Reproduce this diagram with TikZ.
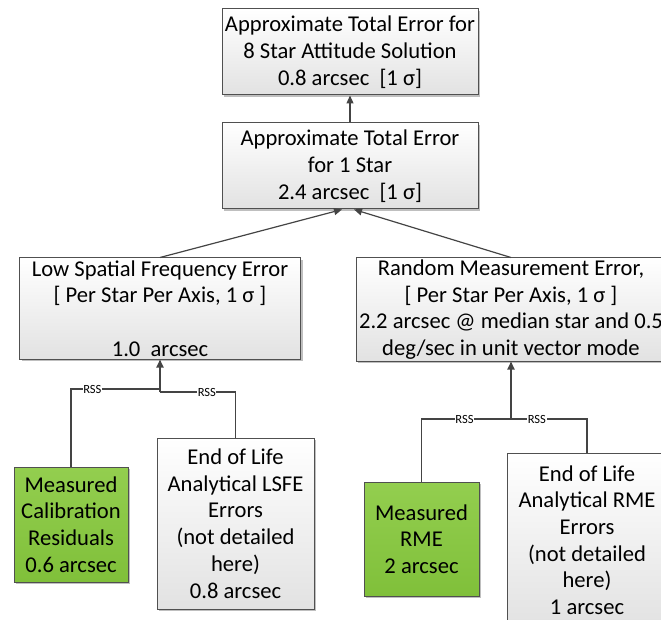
\documentclass[tikz,border=0pt]{standalone}
\usepackage{fontspec}
\setmainfont{Carlito}
\usetikzlibrary{arrows.meta,shadows}
\definecolor{edge}{HTML}{505050}
\definecolor{lgray}{HTML}{E2E2E2}
\definecolor{gtop}{HTML}{93CE4F}
\definecolor{gbot}{HTML}{80C03A}
\definecolor{lnk}{HTML}{444444}
\tikzset{
  box/.style={draw=edge, line width=1pt, top color=white, bottom color=lgray,
    align=center, inner sep=0pt, font=\fontsize{22.6}{26.7}\selectfont,
    drop shadow={shadow xshift=2pt, shadow yshift=-2pt, opacity=0.25, fill=black}},
  gbox/.style={box, top color=gtop, bottom color=gbot},
  trunk/.style={draw=lnk, line width=1.8pt, -{Triangle[length=8pt,width=7pt]}},
  thin/.style={draw=lnk, line width=1.2pt, -{Triangle[length=8pt,width=7pt]}},
  branch/.style={draw=lnk, line width=1.1pt},
  rss/.style={font=\fontsize{12.5}{13}\selectfont, fill=white, inner sep=0.6pt}
}
\begin{document}
\begin{tikzpicture}[x=1pt,y=-1pt]
\useasboundingbox (0,0) rectangle (661,620);
\clip (0,0) rectangle (661,620);
\node[box, minimum width=256pt, minimum height=86pt] (top) at (350,52)
  {Approximate Total Error for\\ 8 Star Attitude Solution\\ 0.8 arcsec\ \ [1 σ]};
\node[box, minimum width=256pt, minimum height=86pt] (mid) at (350,166)
  {Approximate Total Error\\ for 1 Star\\ 2.4 arcsec\ \ [1 σ]};
\node[box, minimum width=281pt, minimum height=101pt] (lsfe) at (160,308.5)
  {Low Spatial Frequency Error\\{}[ Per Star Per Axis, 1 σ ]\\ \mbox{}\\ 1.0\ \ arcsec};
\node[box, minimum width=310pt, minimum height=103pt] (rme) at (511,309.5)
  {Random Measurement Error,\\{}[ Per Star Per Axis, 1 σ ]\\ 2.2 arcsec @ median star and 0.5\\ deg/sec in unit vector mode};
\node[gbox, minimum width=114pt, minimum height=115pt] (g1) at (71,524.5)
  {Measured\\ Calibration\\ Residuals\\ 0.6 arcsec};
\node[box, minimum width=157pt, minimum height=171pt] (e1) at (235.5,523.5)
  {End of Life\\ Analytical LSFE\\ Errors\\ (not detailed\\ here)\\ 0.8 arcsec};
\node[gbox, minimum width=115pt, minimum height=114pt] (g2) at (421.5,539)
  {Measured\\ RME\\ 2 arcsec};
\node[box, minimum width=160pt, minimum height=174pt] (e2) at (587,540)
  {End of Life\\ Analytical RME\\ Errors\\ (not detailed\\ here)\\ 1 arcsec};

\draw[thin] (mid.north) -- (top.south);
\draw[thin] (lsfe.north) -- ([xshift=-8pt]mid.south);
\draw[thin] (rme.north) -- ([xshift=4pt]mid.south);

\coordinate (jl1) at (160,389);
\coordinate (jr1) at (160,392);
\coordinate (j2) at (511,419);
\draw[branch] (g1.north) |- node[rss, pos=0.62] {RSS} (jl1);
\draw[branch] (e1.north) |- node[rss, pos=0.69] {RSS} (jr1);
\draw[trunk] (jr1) -- (lsfe.south);
\draw[branch] (g2.north) |- node[rss, pos=0.74] {RSS} (j2);
\draw[branch] (e2.north) |- node[rss, pos=0.83] {RSS} (j2);
\draw[trunk] (j2) -- (rme.south);
\end{tikzpicture}
\end{document}
